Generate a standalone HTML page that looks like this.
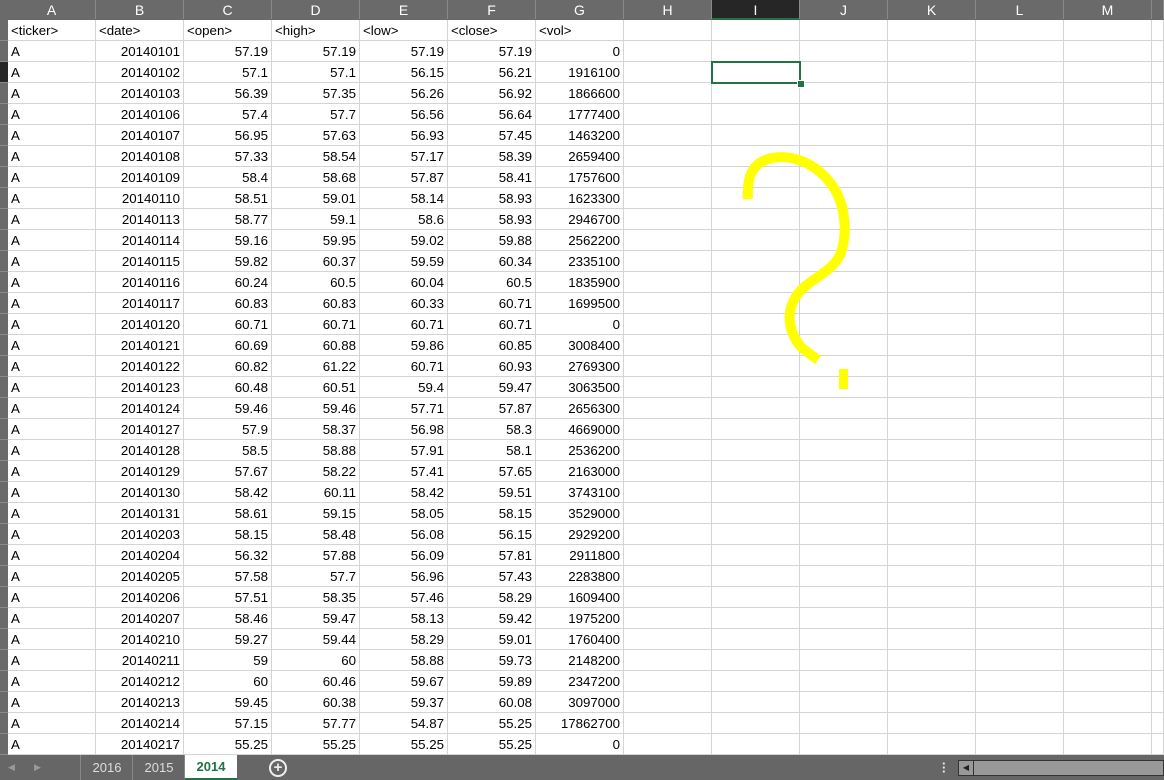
<!DOCTYPE html>
<html><head><meta charset="utf-8">
<style>
body{margin:0;width:1164px;height:780px;overflow:hidden;background:#fff;font-family:"Liberation Sans",Arial,sans-serif;position:relative}
#hdr{position:absolute;left:0;top:0;width:1164px;height:20px;background:#6a6a6a;overflow:hidden}
.ch{position:absolute;top:0;height:19px;line-height:20px;text-align:center;color:#fff;font-size:14px;border-right:1px solid #8a8a8a;box-sizing:border-box}
.ch.sel{background:#262626;border-bottom:2px solid #217346;height:20px}
#rn{position:absolute;left:0;top:20px;width:8px;height:735px;background:#6a6a6a}
.rnc{position:absolute;left:0;width:8px;height:20px;border-bottom:1px solid #8a8a8a}
#grid{position:absolute;left:0;top:0;width:1164px;height:755px;overflow:hidden}
.cell{position:absolute;height:21px;line-height:21px;font-size:13.3px;color:#000;box-sizing:border-box;border-right:1px solid #d4d4d4;border-bottom:1px solid #d4d4d4;padding:0 3px;white-space:nowrap;overflow:hidden}
.r{text-align:right}
#tabs{position:absolute;left:0;top:755px;width:1164px;height:25px;background:#666;overflow:hidden}
.tab{position:absolute;top:0;height:25px;line-height:25px;color:#ddd;font-size:13px;text-align:center;border-left:1px solid #888}
</style></head><body>
<div id="hdr"></div>
<div id="rn"></div>
<div id="grid"></div>
<svg style="position:absolute;left:0;top:0" width="1164" height="780">
<path d="M748 199 C747 180 750 165 768 159 C790 153 815 162 832 185 C846 205 848 235 840 255 C830 275 805 280 795 298 C785 315 790 335 802 348 L818 360" fill="none" stroke="#ffff00" stroke-width="10" stroke-linecap="butt"/>
<rect x="839" y="369" width="9" height="20" fill="#ffff00"/>
</svg>
<div id="sel" style="position:absolute;left:711px;top:61px;width:90px;height:23px;border:2px solid #217346;box-sizing:border-box"></div>
<div style="position:absolute;left:797px;top:80px;width:6px;height:6px;background:#217346;border:1px solid #fff"></div>
<div id="tabs">
<span style="position:absolute;left:8px;top:0;line-height:25px;color:#999;font-size:9px">◀</span>
<span style="position:absolute;left:34px;top:0;line-height:25px;color:#999;font-size:9px">▶</span>
<div class="tab" style="left:80px;width:52px">2016</div>
<div class="tab" style="left:132px;width:52px">2015</div>
<div class="tab" style="left:184px;width:52px;background:#fff;color:#217346;font-weight:bold;border-bottom:2px solid #217346;height:23px;line-height:23px">2014</div>
<div style="position:absolute;left:269px;top:4px;width:14px;height:14px;border:2px solid #eee;border-radius:50%;color:#eee;font-size:15px;line-height:14px;text-align:center;font-weight:bold">+</div>
<div style="position:absolute;left:942px;top:7px;color:#eee;font-size:13px;line-height:4px;font-weight:bold">·<br>·<br>·</div>
<div style="position:absolute;left:958px;top:5px;width:204px;height:14px;background:#999;border:1px solid #333;box-sizing:content-box"><div style="width:14px;height:14px;border-right:1px solid #333;font-size:8px;line-height:14px;text-align:center;color:#222">◀</div></div>
</div>
<script>
const tickers=["A","A","A","A","A","A","A","A","A","A","A","A","A","A","A","A","A","A","A","A","A","A","A","A","A","A","A","A","A","A","A","A","A","A"];
const dates=["20140101","20140102","20140103","20140106","20140107","20140108","20140109","20140110","20140113","20140114","20140115","20140116","20140117","20140120","20140121","20140122","20140123","20140124","20140127","20140128","20140129","20140130","20140131","20140203","20140204","20140205","20140206","20140207","20140210","20140211","20140212","20140213","20140214","20140217"];
const opens=["57.19","57.1","56.39","57.4","56.95","57.33","58.4","58.51","58.77","59.16","59.82","60.24","60.83","60.71","60.69","60.82","60.48","59.46","57.9","58.5","57.67","58.42","58.61","58.15","56.32","57.58","57.51","58.46","59.27","59","60","59.45","57.15","55.25"];
const highs=["57.19","57.1","57.35","57.7","57.63","58.54","58.68","59.01","59.1","59.95","60.37","60.5","60.83","60.71","60.88","61.22","60.51","59.46","58.37","58.88","58.22","60.11","59.15","58.48","57.88","57.7","58.35","59.47","59.44","60","60.46","60.38","57.77","55.25"];
const lows=["57.19","56.15","56.26","56.56","56.93","57.17","57.87","58.14","58.6","59.02","59.59","60.04","60.33","60.71","59.86","60.71","59.4","57.71","56.98","57.91","57.41","58.42","58.05","56.08","56.09","56.96","57.46","58.13","58.29","58.88","59.67","59.37","54.87","55.25"];
const closes=["57.19","56.21","56.92","56.64","57.45","58.39","58.41","58.93","58.93","59.88","60.34","60.5","60.71","60.71","60.85","60.93","59.47","57.87","58.3","58.1","57.65","59.51","58.15","56.15","57.81","57.43","58.29","59.42","59.01","59.73","59.89","60.08","55.25","55.25"];
const vols=["0","1916100","1866600","1777400","1463200","2659400","1757600","1623300","2946700","2562200","2335100","1835900","1699500","0","3008400","2769300","3063500","2656300","4669000","2536200","2163000","3743100","3529000","2929200","2911800","2283800","1609400","1975200","1760400","2148200","2347200","3097000","17862700","0"];
const colLetters=["A","B","C","D","E","F","G","H","I","J","K","L","M",""];
const headers=["<ticker>","<date>","<open>","<high>","<low>","<close>","<vol>"];
const X0=8,CW=88,Y0=20,RH=21,NROWS=35;
function cw(i){const l=X0+i*CW;return Math.min(CW,1164-l);}
const hdr=document.getElementById('hdr'),grid=document.getElementById('grid'),rn=document.getElementById('rn');
colLetters.forEach((c,i)=>{const d=document.createElement('div');d.className='ch'+(c==='I'?' sel':'');


d.style.left=(X0+i*CW)+'px';d.style.width=cw(i)+'px';d.textContent=c;hdr.appendChild(d);});
for(let r=0;r<NROWS;r++){const d=document.createElement('div');d.className='rnc';d.style.top=(r*RH)+'px';if(r===2)d.style.background='#262626';


rn.appendChild(d);}
function cell(r,c,txt,right){const d=document.createElement('div');d.className='cell'+(right?' r':'');


d.style.left=(X0+c*CW)+'px';d.style.top=(Y0+r*RH)+'px';d.style.width=cw(c)+'px';d.textContent=txt;grid.appendChild(d);}
for(let r=0;r<NROWS;r++){for(let c=0;c<14;c++){let t='',right=false;
if(r===0){if(c<7)t=headers[c];}
else{const i=r-1;const cols=[tickers,dates,opens,highs,lows,closes,vols];if(c<7){t=cols[c][i];right=c>0;}}
cell(r,c,t,right);}}
</script>
</body></html>
